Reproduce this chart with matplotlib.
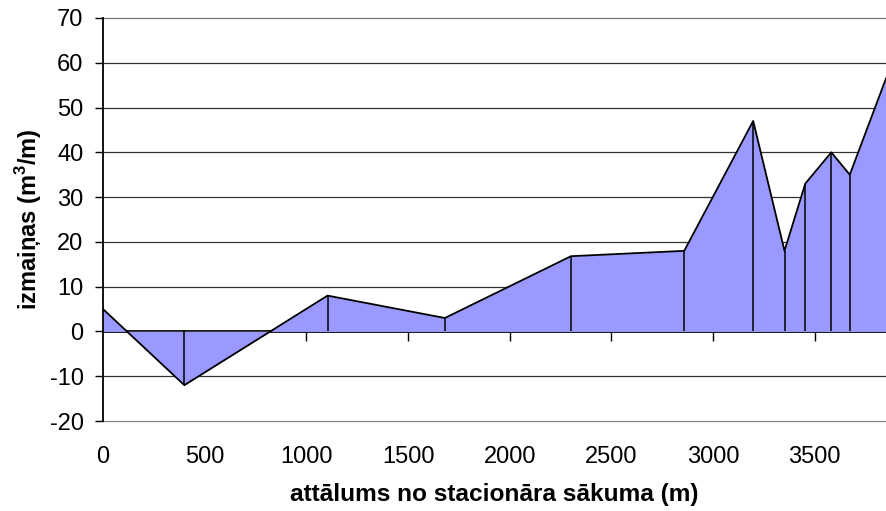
import matplotlib.pyplot as plt

# attālums no stacionāra sākuma (m) un tilpuma izmaiņas (m3/m)
distance = [0, 400, 1104, 1681, 2301, 2858, 3197, 3351, 3453, 3581, 3672, 3850]
change = [5, -12, 8, 3, 16.8, 18, 47, 18, 33, 40, 35, 56.5]

x_ticks = [0, 500, 1000, 1500, 2000, 2500, 3000, 3500]
y_ticks = [-20, -10, 0, 10, 20, 30, 40, 50, 60, 70]

plt.rcParams['font.family'] = ['Liberation Sans', 'DejaVu Sans']
plt.rcParams['font.size'] = 17
plt.rcParams['axes.unicode_minus'] = False
plt.rcParams['mathtext.fontset'] = 'custom'
plt.rcParams['mathtext.rm'] = 'Liberation Sans'
plt.rcParams['mathtext.bf'] = 'Liberation Sans:bold'

fig = plt.figure(figsize=(8.86, 5.11), dpi=100)
ax = fig.add_axes([103 / 886, 90 / 511, 783 / 886, 403 / 511])

ax.fill_between(distance, change, 0, color='#9999FF', lw=0, zorder=2)
ax.plot(distance, change, color='black', lw=1.3, zorder=3)
ax.vlines(distance[1:-1], 0, change[1:-1], color='black', lw=1.1, zorder=3)

ax.set_xlim(0, 3850)
ax.set_ylim(-20, 70)
ax.set_yticks(y_ticks)
ax.set_xticks(x_ticks)

ax.set_axisbelow(True)
ax.yaxis.grid(True, color='#333333', lw=0.9)
for gl in ax.get_ygridlines():
    gl.set_clip_on(False)
ax.get_ygridlines()[0].set_color('#888888')
ax.get_ygridlines()[-1].set_color('#777777')

for side in ['top', 'right', 'bottom']:
    ax.spines[side].set_visible(False)
ax.spines['left'].set_linewidth(1.3)
ax.spines['left'].set_zorder(5)

ax.tick_params(axis='y', direction='out', length=6, width=1, pad=8)
ax.tick_params(axis='x', length=0, pad=18)

# nulles līnija ar iedaļām
zero_pos = 20 / 90
sec = ax.secondary_xaxis(zero_pos)
sec.set_xticks(x_ticks[1:])
sec.tick_params(axis='x', direction='out', length=7, width=1, labelbottom=False)
sec.spines['bottom'].set_linewidth(2)
sec.spines['bottom'].set_zorder(4)

ax.set_ylabel(r'izmaiņas (m$^{\mathbf{3}}$/m)', fontweight='bold', labelpad=4)
ax.set_xlabel('attālums no stacionāra sākuma (m)', fontweight='bold',
              fontsize=17.6, labelpad=11)

fig.savefig('out.png', dpi=100)
plt.close(fig)
